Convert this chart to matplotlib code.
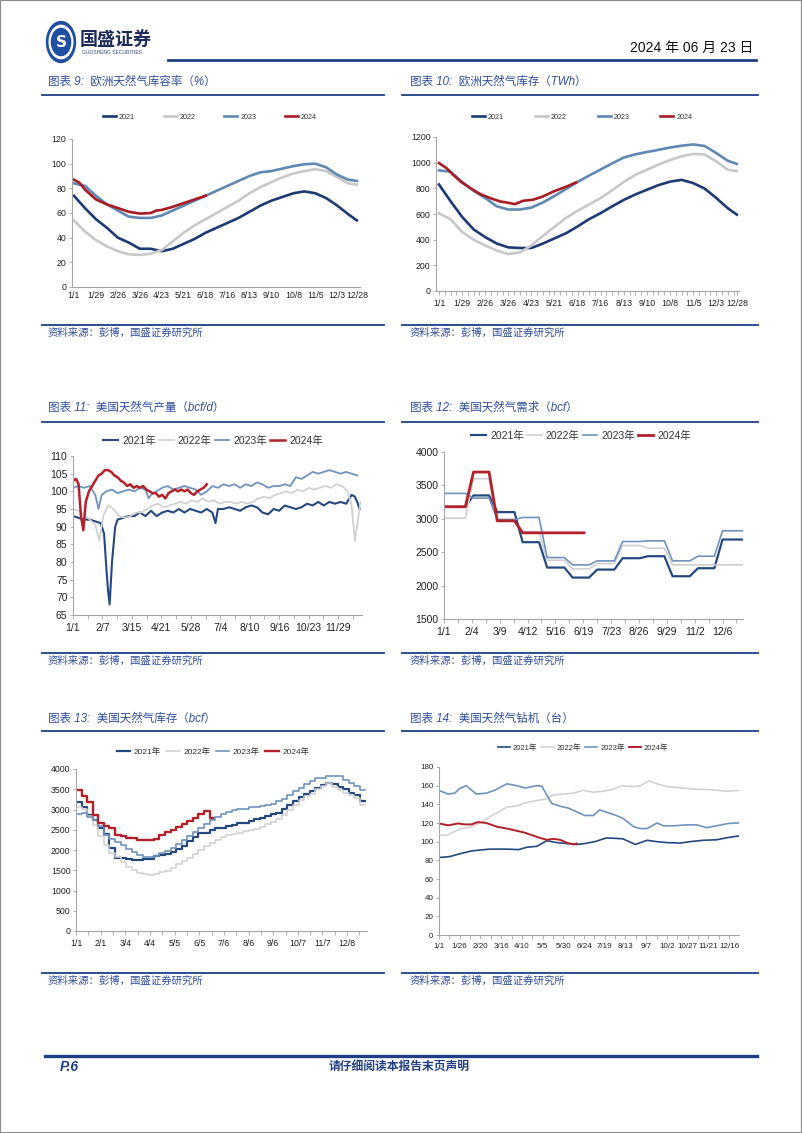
import matplotlib
matplotlib.use("Agg")
import matplotlib.pyplot as plt
import numpy as np
from matplotlib.lines import Line2D
from matplotlib.patches import Circle, Rectangle
from matplotlib.ticker import MultipleLocator

plt.rcParams['font.family'] = ['Liberation Sans', 'Noto Sans CJK SC', 'DejaVu Sans']

W, H = 802, 1133
NAVY = '#1f3e86'
TBLUE = '#2f4f9f'

# ---------------- chart 9 / 10 : EU storage ----------------
eu_days = [0, 14, 28, 42, 56, 70, 84, 98, 112, 126, 140, 154, 168, 182, 196,
           210, 224, 238, 252, 266, 280, 294, 308, 322, 336, 350, 361]
eu_ticks = [0, 28, 56, 84, 112, 140, 168, 196, 224, 252, 280, 308, 336, 361]
eu_labels = ['1/1', '1/29', '2/26', '3/26', '4/23', '5/21', '6/18', '7/16',
             '8/13', '9/10', '10/8', '11/5', '12/3', '12/28']

pct_2021 = [74, 64, 55, 48, 40, 36, 31, 31, 29, 31, 35, 39, 44, 48, 52, 56, 61,
            66, 70, 73, 76, 77.5, 76, 72, 66, 59, 54]
pct_2022 = [54, 45, 38, 33, 29, 26.5, 26, 27, 30, 37, 44, 50, 55, 60, 65, 70, 76,
            81, 85, 89, 92, 94, 95.5, 94, 89, 84, 83]
pct_2023 = [84, 82, 74, 67, 62, 57, 56, 56, 58, 62, 66, 70, 74, 78, 82, 86, 90,
            93, 94, 96, 98, 99.5, 100, 97, 91, 87, 86]
pct_2024_days = [0, 7, 14, 28, 42, 56, 70, 84, 98, 105, 112, 126, 140, 154, 168]
pct_2024 = [87, 84.5, 79, 71, 67, 64, 61, 59.5, 60, 62, 62.5, 65, 68, 71, 74]

twh_2021 = [830, 700, 578, 480, 420, 370, 340, 335, 335, 370, 410, 450, 503, 560,
            607, 660, 710, 752, 789, 825, 852, 866, 841, 798, 725, 645, 595]
twh_2022 = [605, 560, 460, 400, 355, 315, 288, 300, 355, 430, 500, 570, 625, 675,
            725, 785, 850, 905, 945, 985, 1020, 1050, 1068, 1064, 1010, 945, 935]
twh_2023 = [940, 930, 850, 780, 725, 660, 635, 635, 650, 690, 740, 795, 850, 900,
            947, 995, 1040, 1065, 1083, 1100, 1118, 1132, 1142, 1130, 1075, 1015, 990]
twh_2024_days = [0, 9, 17, 27, 38, 50, 62, 74, 86, 92, 102, 114, 126, 139, 155, 166]
twh_2024 = [997, 958, 906, 849, 802, 755, 724, 698, 685, 677, 703, 711, 737, 776,
            815, 846]

# ---------------- chart 11 : US production (bcf/d) ----------------
prod_2021_days = [0, 7, 14, 21, 28, 35, 39, 42, 44, 46, 49, 53, 56, 63, 70, 77, 84,
                  91, 98, 105, 112, 119, 126, 133, 140, 147, 154, 161, 168, 175,
                  179, 182, 189, 196, 203, 210, 217, 224, 231, 238, 245, 252, 259,
                  266, 273, 280, 287, 294, 301, 308, 315, 322, 329, 336, 343, 350,
                  354, 357, 360]
prod_2021 = [93, 92.5, 92, 92, 91.5, 91, 88, 78, 72, 68, 80, 90, 92, 92.5, 93, 93,
             94, 93, 94.5, 93, 94, 94.5, 94, 95, 94, 95, 94.5, 94, 95, 94, 91, 95,
             95, 95.5, 95, 94.5, 95.5, 96, 95.5, 94, 93.5, 95, 94.5, 96, 95.5, 95,
             95.5, 96.5, 96, 97, 96, 97, 96.5, 97, 96.5, 99, 98.5, 97, 95]
prod_2022_days = [0, 7, 14, 21, 28, 33, 38, 44, 51, 58, 65, 72, 79, 86, 93, 100,
                  107, 114, 121, 128, 135, 142, 149, 156, 163, 170, 177, 184, 191,
                  198, 205, 212, 219, 226, 233, 240, 247, 254, 261, 268, 275, 282,
                  289, 296, 303, 310, 317, 324, 331, 338, 345, 350, 354, 358, 361]
prod_2022 = [95, 94.5, 93.5, 92, 90.5, 86, 93, 96, 95, 93, 92.5, 93, 94, 94, 95,
             96, 96.5, 95.5, 96, 96.5, 97, 96.5, 97.5, 97, 98, 97, 97.5, 96.5, 97,
             97, 96.5, 97, 96.5, 97, 98, 98.5, 98, 99, 99.5, 100, 99.5, 100.5, 100,
             101, 100.5, 101, 101.5, 101, 102, 101.5, 100, 96, 86, 92, 97]
prod_2023_days = [0, 7, 14, 21, 28, 32, 36, 42, 49, 56, 63, 70, 77, 84, 91, 95, 98,
                  105, 112, 119, 126, 133, 140, 147, 154, 161, 168, 175, 182, 189,
                  196, 203, 210, 217, 224, 231, 238, 245, 252, 259, 266, 273, 280,
                  287, 294, 301, 308, 315, 322, 329, 336, 343, 350, 357]
prod_2023 = [101, 101.5, 101, 101.5, 99, 95, 99, 100, 100.5, 99.5, 100, 100.5, 100,
             101, 100.5, 98, 99, 100, 101, 101.5, 100.5, 101, 101.5, 101, 100.5, 99,
             100, 101.5, 101, 102, 101.5, 102, 101, 102, 101.5, 102.5, 102, 101,
             101.5, 101.5, 102, 101.5, 104, 103.5, 104.5, 105.5, 105, 105.5, 106,
             105.5, 105, 105.5, 105, 104.5]
prod_2024_days = [0, 4, 7, 10, 13, 16, 20, 24, 28, 32, 36, 40, 44, 48, 52, 56, 60,
                  64, 68, 72, 76, 80, 84, 88, 92, 96, 100, 104, 108, 112, 116, 120,
                  124, 128, 132, 136, 140, 144, 148, 152, 156, 160, 164, 168]
prod_2024 = [103, 103.5, 102, 93, 89, 97, 100, 101.5, 103, 104.5, 105, 106, 106,
             105.5, 104.5, 104, 103, 102.5, 101.5, 102, 101, 101.5, 101, 101.5,
             100.5, 100, 99.5, 99.5, 98.5, 99, 98, 99.5, 100, 100.5, 100, 100.5,
             100, 100.5, 99.5, 99, 100, 100.5, 101, 102]
prod_labels = ['1/1', '2/7', '3/15', '4/21', '5/28', '7/4', '8/10', '9/16',
               '10/23', '11/29']

# ---------------- chart 12 : US demand (bcf, monthly) ----------------
month_start = [0, 31, 60, 91, 121, 152, 182, 213, 244, 274, 305, 335, 366]
dem_2021 = [3180, 3350, 3100, 2650, 2270, 2120, 2240, 2410, 2440, 2140, 2260, 2690]
dem_2022 = [3010, 3600, 2960, 2800, 2380, 2250, 2330, 2600, 2560, 2310, 2310, 2310]
dem_2023 = [3380, 3310, 2990, 3020, 2420, 2310, 2370, 2660, 2670, 2370, 2440, 2820]
dem_2024 = [3180, 3700, 2970, 2790, 2790, 2790]
dem_2024_end = 171
dem_labels = ['1/1', '2/4', '3/9', '4/12', '5/16', '6/19', '7/23', '8/26',
              '9/29', '11/2', '12/6']

# ---------------- chart 13 : US storage (bcf, weekly) ----------------
sto_2021 = [3196, 3062, 2875, 2747, 2555, 2384, 2047, 1809, 1793, 1782, 1746, 1760,
            1780, 1782, 1841, 1883, 1898, 1958, 2029, 2100, 2215, 2313, 2411, 2427,
            2495, 2533, 2539, 2594, 2629, 2665, 2678, 2721, 2767, 2796, 2848, 2900,
            2925, 3010, 3100, 3218, 3299, 3381, 3464, 3528, 3611, 3644, 3622, 3564,
            3505, 3417, 3362, 3212]
sto_2022 = [3050, 3016, 2837, 2618, 2350, 2128, 1938, 1834, 1705, 1581, 1502, 1443,
            1415, 1382, 1397, 1450, 1490, 1567, 1643, 1732, 1812, 1902, 1999, 2095,
            2169, 2251, 2311, 2369, 2401, 2416, 2457, 2501, 2519, 2580, 2641, 2694,
            2771, 2874, 2977, 3106, 3231, 3342, 3394, 3501, 3580, 3644, 3564, 3483,
            3412, 3362, 3274, 3100]
sto_2023 = [2891, 2902, 2820, 2729, 2583, 2366, 2266, 2195, 2114, 2030, 1946, 1874,
            1830, 1830, 1855, 1930, 1985, 2039, 2141, 2240, 2336, 2446, 2550, 2634,
            2729, 2805, 2877, 2949, 2990, 3006, 3021, 3050, 3065, 3083, 3115, 3148,
            3205, 3269, 3359, 3449, 3533, 3630, 3704, 3779, 3779, 3833, 3826, 3836,
            3719, 3664, 3577, 3490]
sto_2024 = [3476, 3336, 3182, 2856, 2659, 2584, 2535, 2374, 2334, 2296, 2296, 2259,
            2250, 2259, 2283, 2375, 2434, 2484, 2563, 2631, 2709, 2795, 2893, 2967,
            2790]
sto_labels = ['1/1', '2/1', '3/4', '4/4', '5/5', '6/5', '7/6', '8/6', '9/6',
              '10/7', '11/7', '12/8']

# ---------------- chart 14 : US gas rigs ----------------
rig_2021_days = [0, 13, 25, 39, 49, 61, 82, 96, 106, 118, 130, 142, 154, 166, 176,
                 188, 202, 214, 222, 237, 251, 263, 275, 291, 303, 319, 335, 349, 361]
rig_2021 = [83, 84, 87, 90, 91, 92, 92, 91.5, 94, 95, 101, 99, 98, 97, 98, 100, 104,
            103.5, 103, 97, 101.5, 100, 99, 98.5, 100, 101.5, 102, 104.5, 106]
rig_2022_days = [0, 9, 17, 27, 39, 49, 60, 70, 82, 92, 106, 118, 130, 138, 150, 162,
                 174, 186, 198, 210, 221, 235, 243, 253, 263, 275, 287, 299, 311,
                 323, 335, 349, 361]
rig_2022 = [107, 107, 110, 114, 116, 120, 126, 131, 137, 138, 142, 144, 146, 150,
            151, 152, 155, 153, 154, 156, 160, 159, 160, 165, 162, 159, 158, 157,
            156, 156, 155, 154, 155]
rig_2023_days = [0, 11, 19, 25, 33, 45, 57, 67, 82, 94, 104, 118, 124, 136, 146, 156,
                 166, 176, 186, 194, 204, 214, 222, 235, 243, 251, 263, 271, 283,
                 299, 311, 323, 335, 349, 361]
rig_2023 = [155, 151, 152, 157, 160, 151, 152, 155, 162, 160, 157.5, 160, 159.5,
            141, 138, 136, 132, 128, 128, 134, 131, 128, 125, 116, 114, 114, 120,
            117, 117, 118, 118, 115, 117, 119.5, 120]
rig_2024_days = [0, 11, 23, 31, 39, 47, 57, 70, 82, 92, 102, 112, 122, 130, 138,
                 146, 154, 162, 166]
rig_2024 = [119.5, 117.5, 119.5, 118.5, 118.5, 121, 120, 116, 114, 112, 110, 107,
            104, 102, 103, 102, 99, 97, 98]
rig_labels = ['1/1', '1/26', '2/20', '3/16', '4/10', '5/5', '5/30', '6/24', '7/19',
              '8/13', '9/7', '10/2', '10/27', '11/21', '12/16']

years = ['2021', '2022', '2023', '2024']

# colours
EU_C = ['#1c3a73', '#c8c8c8', '#5f88b5', '#a81c24']
US_C = ['#25497f', '#cfcfcf', '#6f93bd', '#b2212a']


def month_steps(vals, end=None):
    xs, ys = [], []
    for i, v in enumerate(vals):
        a = month_start[i] + (5 if i else 0)
        b = month_start[i + 1] - 5 if i < 11 else 365
        if end is not None and i == len(vals) - 1:
            b = end
        xs += [a, b]
        ys += [v, v]
    return xs, ys


def weekly(vals, tail):
    xs = list(np.arange(len(vals)) * 7) + [7 * (len(vals) - 1) + tail]
    return xs, list(vals) + [vals[-1]]


fig = plt.figure(figsize=(W / 100, H / 100), dpi=100)


def fx(x):
    return x / W


def fy(y):
    return 1 - y / H


def add_axes(x0, y0, x1, y1):
    return fig.add_axes([fx(x0), fy(y1), (x1 - x0) / W, (y1 - y0) / H])


def hline(x0, x1, y, color=NAVY, lw=1.2):
    fig.add_artist(Line2D([fx(x0), fx(x1)], [fy(y), fy(y)], color=color, lw=lw))


def frame(x_title, x0, x1, title, y_title, y_line, y_src_line, y_src):
    fig.text(fx(x_title), fy(y_title), title, fontsize=8.3, color=TBLUE,
             style='italic', va='center', ha='left')
    hline(x0, x1, y_line, lw=1.3)
    hline(x0, x1, y_src_line, lw=1.3)
    fig.text(fx(x_title), fy(y_src), '资料来源：彭博，国盛证券研究所', fontsize=7.5,
             color=TBLUE, style='italic', va='center', ha='left')


def style(ax, fs, xlen=3):
    for s in ['top', 'right']:
        ax.spines[s].set_visible(False)
    for s in ['left', 'bottom']:
        ax.spines[s].set_color('#a6a6a6')
        ax.spines[s].set_linewidth(0.8)
    ax.tick_params(axis='both', which='both', labelsize=fs, colors='#a6a6a6',
                   labelcolor='#222222', width=0.6)
    ax.tick_params(axis='y', length=2, pad=2)
    ax.tick_params(axis='x', which='both', length=xlen, pad=3)
    ax.set_facecolor('none')


def legend(ax, handles, labels, cx, cy, fs, hl, cs):
    ax.legend(handles, labels, loc='center', bbox_to_anchor=(fx(cx), fy(cy)),
              bbox_transform=fig.transFigure, ncol=4, frameon=False, fontsize=fs,
              handlelength=hl, columnspacing=cs, handletextpad=0.4,
              labelcolor='#333333')


# ---------------- page decorations ----------------
fig.add_artist(Rectangle((0, 0), 1, 1, transform=fig.transFigure, fill=False,
                         ec='#8c8c8c', lw=1.6))
for r, c in [(14.5, '#1f4fa0'), (11.8, 'white'), (9.6, '#1f4fa0')]:
    fig.add_artist(Circle((fx(61), fy(42)), r / W, transform=fig.transFigure,
                          color=c))
fig.text(fx(61), fy(42.5), 'S', fontsize=11, fontweight='bold', color='white',
         ha='center', va='center', family='DejaVu Sans')
fig.text(fx(80), fy(40), '国盛证券', fontsize=13, fontweight='bold',
         color='#1c2a5a', ha='left', va='center')
fig.text(fx(82), fy(53), 'GUOSHENG SECURITIES', fontsize=3.6, color='#3a4a7a',
         ha='left', va='center')
hline(168, 756, 60, lw=2)
fig.text(fx(753), fy(48), '2024 年 06 月 23 日', fontsize=10, color='#111111',
         ha='right', va='center')

hline(45, 757, 1056, lw=2.4)
fig.text(fx(60), fy(1067), 'P.6', fontsize=10, fontweight='bold', style='italic',
         color=NAVY, ha='left', va='center')
fig.text(fx(399), fy(1067), '请仔细阅读本报告末页声明', fontsize=8.5,
         fontweight='bold', style='italic', color=NAVY, ha='center', va='center')

frame(48, 42, 384, '图表 9:  欧洲天然气库容率（%）', 82, 95, 325, 333)
frame(410, 402, 758, '图表 10:  欧洲天然气库存（TWh）', 82, 95, 325, 333)
frame(48, 42, 384, '图表 11:  美国天然气产量（bcf/d）', 408, 422, 653, 661)
frame(410, 402, 758, '图表 12:  美国天然气需求（bcf）', 408, 422, 653, 661)
frame(48, 42, 384, '图表 13:  美国天然气库存（bcf）', 719, 731, 973, 981)
frame(410, 402, 758, '图表 14:  美国天然气钻机（台）', 719, 731, 973, 981)

# ---------------- chart 9 ----------------
ax = add_axes(72, 139, 360, 287)
h = []
for vals, c in zip([pct_2021, pct_2022, pct_2023], EU_C[:3]):
    h += ax.plot(eu_days, vals, color=c, lw=1.9)
h += ax.plot(pct_2024_days, pct_2024, color=EU_C[3], lw=1.9)
ax.set_xlim(-2.5, 365)
ax.set_ylim(0, 120)
ax.set_yticks(range(0, 121, 20))
ax.set_xticks(eu_ticks)
ax.set_xticklabels(eu_labels)
style(ax, 6.3, xlen=0)
legend(ax, h, years, 210, 117, 5.2, 1.8, 4.0)

# ---------------- chart 10 ----------------
ax = add_axes(436, 137, 739, 291)
h = []
for vals, c in zip([twh_2021, twh_2022, twh_2023], EU_C[:3]):
    h += ax.plot(eu_days, vals, color=c, lw=1.9)
h += ax.plot(twh_2024_days, twh_2024, color=EU_C[3], lw=1.9)
ax.set_xlim(-3.6, 363.6)
ax.set_ylim(0, 1200)
ax.set_yticks(range(0, 1201, 200))
ax.set_xticks(eu_ticks)
ax.set_xticklabels(eu_labels)
ax.xaxis.set_minor_locator(MultipleLocator(7))
style(ax, 6.3, xlen=3)
legend(ax, h, years, 582, 117, 5.2, 1.8, 4.3)

# ---------------- chart 11 ----------------
ax = add_axes(73, 456, 362, 615)
h = []
h += ax.plot(prod_2021_days, prod_2021, color=US_C[0], lw=1.5)
h += ax.plot(prod_2022_days, prod_2022, color=US_C[1], lw=1.2)
h += ax.plot(prod_2023_days, prod_2023, color=US_C[2], lw=1.3)
h += ax.plot(prod_2024_days, prod_2024, color=US_C[3], lw=1.8)
ax.set_xlim(0, 363)
ax.set_ylim(65, 110)
ax.set_yticks(range(65, 111, 5))
ax.set_xticks(np.arange(len(prod_labels)) * 37)
ax.set_xticklabels(prod_labels)
ax.xaxis.set_minor_locator(MultipleLocator(18.5))
style(ax, 7.5, xlen=3)
legend(ax, h, [y + '年' for y in years], 213, 441, 7.5, 1.4, 0.3)

# ---------------- chart 12 ----------------
ax = add_axes(444, 452, 743, 619)
h = []
for vals, c, lw in zip([dem_2021, dem_2022, dem_2023], US_C[:3], [1.6, 1.2, 1.2]):
    xs, ys = month_steps(vals)
    h += ax.plot(xs, ys, color=c, lw=lw)
xs, ys = month_steps(dem_2024, dem_2024_end)
h += ax.plot(xs, ys, color=US_C[3], lw=2)
ax.set_xlim(0, 365)
ax.set_ylim(1500, 4000)
ax.set_yticks(range(1500, 4001, 500))
ax.set_xticks(np.arange(len(dem_labels)) * 34)
ax.set_xticklabels(dem_labels)
ax.xaxis.set_minor_locator(MultipleLocator(17))
style(ax, 7.5, xlen=3)
legend(ax, h, [y + '年' for y in years], 581, 436, 7.5, 1.4, 0.3)

# ---------------- chart 13 ----------------
ax = add_axes(76, 769, 367, 931)
h = []
for vals, c, lw in zip([sto_2021, sto_2022, sto_2023], US_C[:3], [1.6, 1.1, 1.2]):
    xs, ys = weekly(vals, 7)
    h += ax.step(xs, ys, where='post', color=c, lw=lw)
xs, ys = weekly(sto_2024, 4)
h += ax.step(xs, ys, where='post', color=US_C[3], lw=1.7)
ax.set_xlim(0, 366)
ax.set_ylim(0, 4000)
ax.set_yticks(range(0, 4001, 500))
ax.set_xticks(np.arange(len(sto_labels)) * 31)
ax.set_xticklabels(sto_labels)
ax.xaxis.set_minor_locator(MultipleLocator(15.5))
style(ax, 6.3, xlen=3)
legend(ax, h, [y + '年' for y in years], 213, 752, 6, 1.6, 0.7)

# ---------------- chart 14 ----------------
ax = add_axes(439, 767, 739, 935)
h = []
h += ax.plot(rig_2021_days, rig_2021, color=US_C[0], lw=1.2)
h += ax.plot(rig_2022_days, rig_2022, color=US_C[1], lw=1.1)
h += ax.plot(rig_2023_days, rig_2023, color=US_C[2], lw=1.2)
h += ax.plot(rig_2024_days, rig_2024, color=US_C[3], lw=1.4)
ax.set_xlim(0, 362)
ax.set_ylim(0, 180)
ax.set_yticks(range(0, 181, 20))
ax.set_xticks(np.arange(len(rig_labels)) * 25)
ax.set_xticklabels(rig_labels)
ax.xaxis.set_minor_locator(MultipleLocator(12.5))
style(ax, 5.8, xlen=3)
legend(ax, h, [y + '年' for y in years], 583, 748, 5.5, 1.6, 0.5)

fig.savefig('out.png', dpi=100)
